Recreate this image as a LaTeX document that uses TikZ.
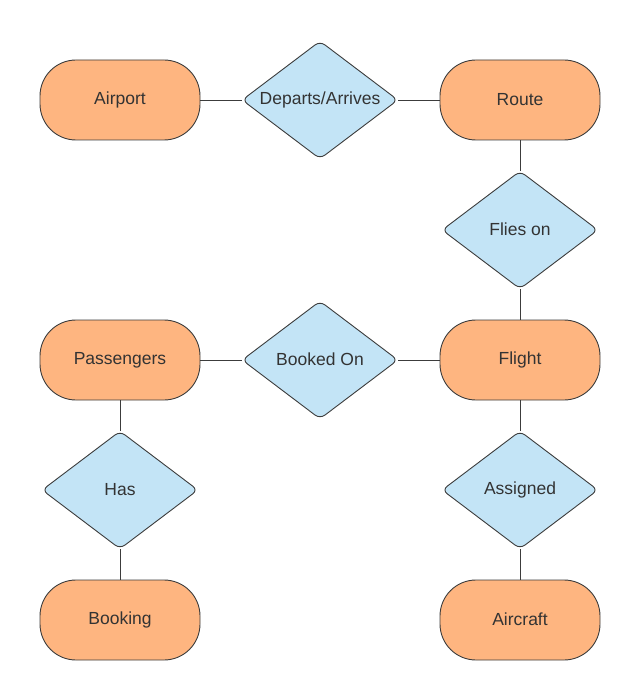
\documentclass[tikz,border=0pt]{standalone}
\usepackage{fontspec}
\setmainfont{Liberation Sans}
\usetikzlibrary{shapes.geometric}
\definecolor{entfill}{HTML}{FEB580}
\definecolor{relfill}{HTML}{C3E4F6}
\definecolor{edgecol}{HTML}{3C3C3C}
\definecolor{txtcol}{HTML}{333333}
\begin{document}
\begin{tikzpicture}[x=1pt,y=-1pt,
  entity/.style={draw=edgecol, line width=0.9pt, fill=entfill, rounded corners=36pt,
    minimum width=160pt, minimum height=80pt, inner sep=0pt, text=txtcol,
    font=\fontsize{17.5}{20}\selectfont},
  rel/.style={draw=edgecol, line width=0.9pt, fill=relfill, diamond, aspect=1.33, rounded corners=6pt,
    minimum width=156pt, minimum height=118pt, inner sep=0pt, text=txtcol,
    font=\fontsize{17.5}{20}\selectfont},
  link/.style={draw=edgecol, line width=0.9pt}]
\useasboundingbox (0,0) rectangle (640,700);
\node[entity] (airport) at (120,100) {\raisebox{1pt}{Airport}};
\node[rel] (dep) at (320,100) {\raisebox{3pt}{Departs/Arrives}};
\node[entity] (route) at (520,100) {\raisebox{1pt}{Route}};
\node[rel] (flies) at (520,230) {\raisebox{2pt}{Flies on}};
\node[entity] (flight) at (520,360) {\raisebox{1pt}{Flight}};
\node[rel] (booked) at (320,360) {\raisebox{2pt}{Booked On}};
\node[entity] (pass) at (120,360) {\raisebox{1pt}{Passengers}};
\node[rel] (has) at (120,490) {\raisebox{2pt}{Has}};
\node[entity] (booking) at (120,620) {\raisebox{1pt}{Booking}};
\node[rel] (assigned) at (520,490) {\raisebox{2pt}{Assigned}};
\node[entity] (aircraft) at (520,620) {\raisebox{1pt}{Aircraft}};
\draw[link] (airport) -- (dep);
\draw[link] (dep) -- (route);
\draw[link] (route) -- (flies);
\draw[link] (flies) -- (flight);
\draw[link] (flight) -- (booked);
\draw[link] (booked) -- (pass);
\draw[link] (pass) -- (has);
\draw[link] (has) -- (booking);
\draw[link] (flight) -- (assigned);
\draw[link] (assigned) -- (aircraft);
\end{tikzpicture}
\end{document}
